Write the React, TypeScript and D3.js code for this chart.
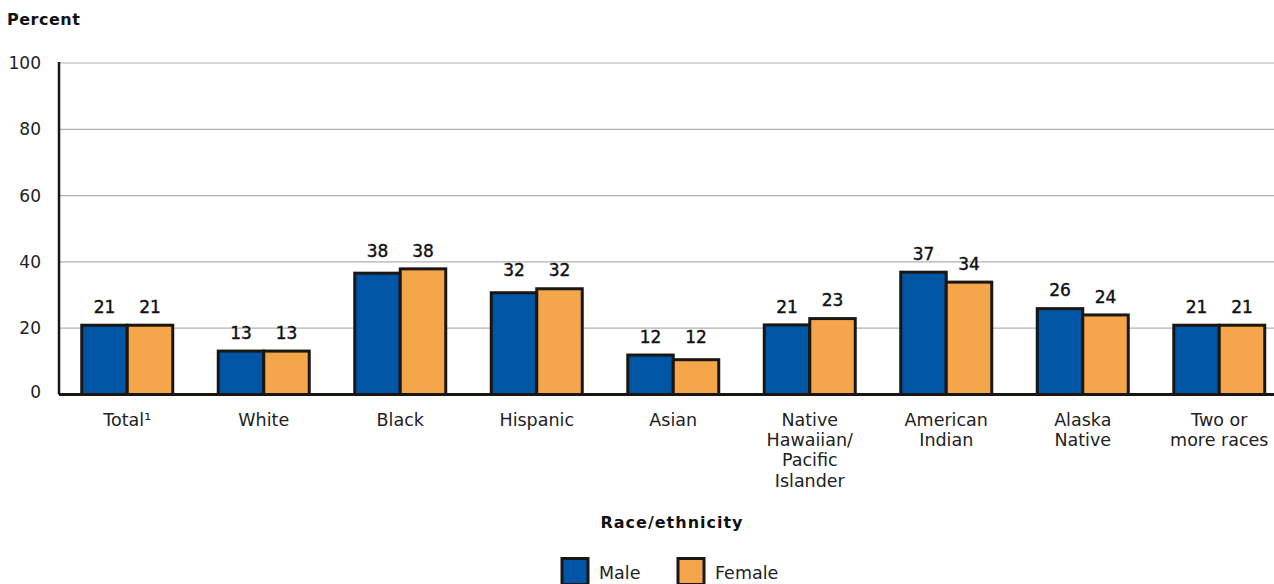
import React from "react";
import * as d3 from "d3";

const categories = [
  "Total¹",
  "White",
  "Black",
  "Hispanic",
  "Asian",
  "Native\nHawaiian/\nPacific\nIslander",
  "American\nIndian",
  "Alaska\nNative",
  "Two or\nmore races",
];
const series = ["Male", "Female"];
const maleValues = [20.9, 13.1, 36.6, 30.7, 11.9, 21.0, 36.9, 25.9, 20.9];
const femaleValues = [20.9, 13.1, 37.9, 31.9, 10.5, 22.9, 33.9, 24.0, 20.9];
const maleLabels = [21, 13, 38, 32, 12, 21, 37, 26, 21];
const femaleLabels = [21, 13, 38, 32, 12, 23, 34, 24, 21];
const yTicks = [0, 20, 40, 60, 80, 100];

const W = 1274;
const H = 584;
const FONT = "'DejaVu Sans', sans-serif";
const COLORS = ["#0055A5", "#F5A54A"];
const STROKE = "#1a1612";

export default function App() {
  const left = 59;
  const step = 136.5;
  const x = d3
    .scaleBand<string>()
    .domain(categories)
    .range([left, left + step * categories.length])
    .paddingInner(1 / 3)
    .paddingOuter(1 / 6);
  const inner = d3.scaleBand<string>().domain(series).range([0, x.bandwidth()]);
  const y = d3.scaleLinear().domain([0, 100]).range([394.5, 63]);

  const vals = [maleValues, femaleValues];
  const labs = [maleLabels, femaleLabels];

  return (
    <svg
      width={W}
      height={H}
      style={{ position: "fixed", left: 0, top: 0, background: "#fff" }}
      fontFamily={FONT}
    >
      <rect width={W} height={H} fill="#fff" />
      <text x={7} y={25} fontSize={16} fontWeight="bold" letterSpacing={0.5} fill="#111">
        Percent
      </text>
      {yTicks.map((t) => (
        <g key={t}>
          {t > 0 && (
            <line x1={left} x2={W} y1={y(t)} y2={y(t)} stroke="#b0b0b0" strokeWidth={1.2} />
          )}
          <text
            x={41}
            y={y(t) + (t === 0 ? -3 : 0)}
            dy="0.36em"
            textAnchor="end"
            fontSize={17}
            fill="#222"
          >
            {t}
          </text>
        </g>
      ))}
      {categories.map((c, i) => (
        <g key={c} transform={`translate(${x(c)},0)`}>
          {series.map((s, si) => {
            const v = vals[si][i];
            const bx = inner(s)!;
            return (
              <g key={s}>
                <rect
                  x={bx}
                  y={y(v)}
                  width={inner.bandwidth()}
                  height={y(0) - y(v)}
                  fill={COLORS[si]}
                  stroke={STROKE}
                  strokeWidth={3}
                />
                <text
                  x={bx + inner.bandwidth() / 2}
                  y={y(labs[si][i]) - 12}
                  textAnchor="middle"
                  fontSize={17}
                  fill="#111"
                  stroke="#111"
                  strokeWidth={0.4}
                >
                  {labs[si][i]}
                </text>
              </g>
            );
          })}
          <text
            x={x.bandwidth() / 2}
            y={426}
            textAnchor="middle"
            fontSize={17.5}
            fill="#222"
          >
            {c.split("\n").map((line, li) => (
              <tspan key={li} x={x.bandwidth() / 2} dy={li === 0 ? 0 : 20.2}>
                {line}
              </tspan>
            ))}
          </text>
        </g>
      ))}
      <line x1={left} x2={left} y1={y(100) - 1} y2={y(0)} stroke={STROKE} strokeWidth={2.5} />
      <line x1={left} x2={W} y1={y(0)} y2={y(0)} stroke={STROKE} strokeWidth={3} />
      <text
        x={672}
        y={528}
        textAnchor="middle"
        fontSize={16}
        fontWeight="bold"
        letterSpacing={1}
        fill="#111"
      >
        Race/ethnicity
      </text>
      {series.map((s, si) => {
        const lx = si === 0 ? 562 : 678;
        return (
          <g key={s}>
            <rect
              x={lx}
              y={558.5}
              width={26}
              height={26}
              fill={COLORS[si]}
              stroke={STROKE}
              strokeWidth={3}
            />
            <text x={lx + 37} y={579} fontSize={17.5} fill="#222">
              {s}
            </text>
          </g>
        );
      })}
    </svg>
  );
}
